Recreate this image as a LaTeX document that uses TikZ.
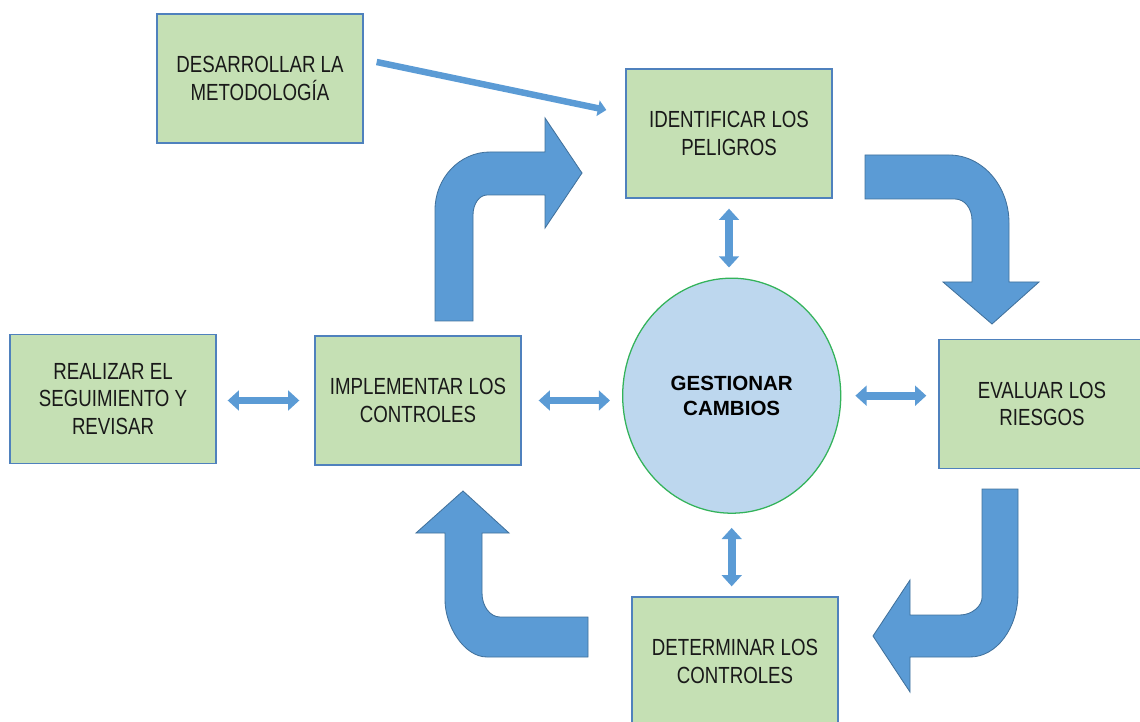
\documentclass[tikz,border=0pt]{standalone}
\usepackage{fontspec}
\setmainfont{Liberation Sans}[FakeStretch=0.8]
\newfontfamily\circfont{Liberation Sans}
\usetikzlibrary{arrows.meta, shapes.geometric, calc}
\definecolor{gboxfill}{RGB}{197, 224, 180}
\definecolor{gboxline}{RGB}{79, 129, 189}
\definecolor{gcircfill}{RGB}{189, 215, 238}
\definecolor{gcircline}{RGB}{51, 179, 90}
\definecolor{garrfill}{RGB}{91, 155, 213}
\definecolor{garrline}{RGB}{65, 113, 156}

\begin{document}
\begin{tikzpicture}[x=0.025cm, y=-0.025cm,
  box/.style={rectangle, draw=gboxline, fill=gboxfill, line width=0.9pt,
              minimum width=5.15cm, minimum height=3.225cm, align=center,
              font=\fontsize{16.6}{19.5}\selectfont, text=black!90},
  circ/.style={ellipse, draw=gcircline, fill=gcircfill, line width=0.9pt,
               minimum width=5.45cm, minimum height=5.875cm, align=center,
               font=\circfont\bfseries\fontsize{14.6}{17.8}\selectfont},
  blockarr/.style={fill=garrfill, draw=garrline, line width=0.6pt, line join=miter},
  dbl/.style={{Triangle[length=8pt, width=14pt]}-{Triangle[length=8pt, width=14pt]},
              line width=5.6pt, garrfill},
  linkarr/.style={-{Triangle[length=6pt, width=11pt]}, line width=4.6pt, garrfill}
]
\useasboundingbox (0,0) rectangle (1140,722);

% Boxes
\node[box] (desarrollar) at (260,78.5)  {DESARROLLAR LA\\METODOLOGÍA};
\node[box] (identificar) at (729,133.5) {IDENTIFICAR LOS\\PELIGROS};
\node[box] (realizar)    at (113,399)   {REALIZAR EL\\SEGUIMIENTO Y\\REVISAR};
\node[box] (implementar) at (418,400.5) {IMPLEMENTAR LOS\\CONTROLES};
\node[box] (evaluar)     at (1042,404)  {EVALUAR LOS\\RIESGOS};
\node[box] (determinar)  at (735,661.5) {DETERMINAR LOS\\CONTROLES};
% Centre
\node[circ] (gestionar) at (731.7,395.7) {GESTIONAR\\CAMBIOS};

% Cycle arrows
\draw[blockarr] (435,321) -- (435,210) .. controls (435,178) and (459.6,152) .. (490,152)
  -- (545,152) -- (545,118) -- (582,173) -- (545,228) -- (545,195) -- (487,195)
  .. controls (479.3,195) and (473,204) .. (473,215) -- (473,321) -- cycle;
\draw[blockarr] (865,155) -- (949,155) .. controls (982.1,155) and (1009,185.4) .. (1009,223)
  -- (1009,282) -- (1039,282) -- (992,324) -- (943,282) -- (972,282) -- (972,220)
  .. controls (972,208.4) and (964.4,199) .. (955,199) -- (865,199) -- cycle;
\draw[blockarr] (982,489) -- (1018,489) -- (1018,593) .. controls (1018,628.3) and (996.5,657) .. (970,657)
  -- (910,657) -- (910,692) -- (873,636) -- (910,580) -- (910,615) -- (960,615)
  .. controls (972.2,615) and (982,605.6) .. (982,598) -- cycle;
\draw[blockarr] (588,617) -- (588,657) -- (487,657) .. controls (463.8,657) and (445,625.5) .. (445,600)
  -- (445,533) -- (416,533) -- (463,491) -- (509,533) -- (482,533) -- (482,593)
  .. controls (482,606.3) and (490.1,617) .. (500,617) -- cycle;

% Links
\draw[linkarr] ($(desarrollar.east)+(13,-16.5)$) -- ($(identificar.west)+(-19,-23.5)$);
\draw[dbl, shorten <=0.275cm, shorten >=0.375cm] (implementar.west -| realizar.east) -- (implementar.west);
\draw[dbl, shorten <=0.425cm, shorten >=0.3cm] (implementar.east) -- (implementar.east -| gestionar.west);
\draw[dbl, shorten <=0.35cm, shorten >=0.3cm] (gestionar.east) -- (gestionar.east -| evaluar.west);
\draw[dbl, shorten <=0.25cm, shorten >=0.25cm] (identificar.south) -- (identificar.south |- gestionar.north);
\draw[dbl, shorten <=0.35cm, shorten >=0.25cm] (gestionar.south) -- (gestionar.south |- determinar.north);
\end{tikzpicture}
\end{document}
